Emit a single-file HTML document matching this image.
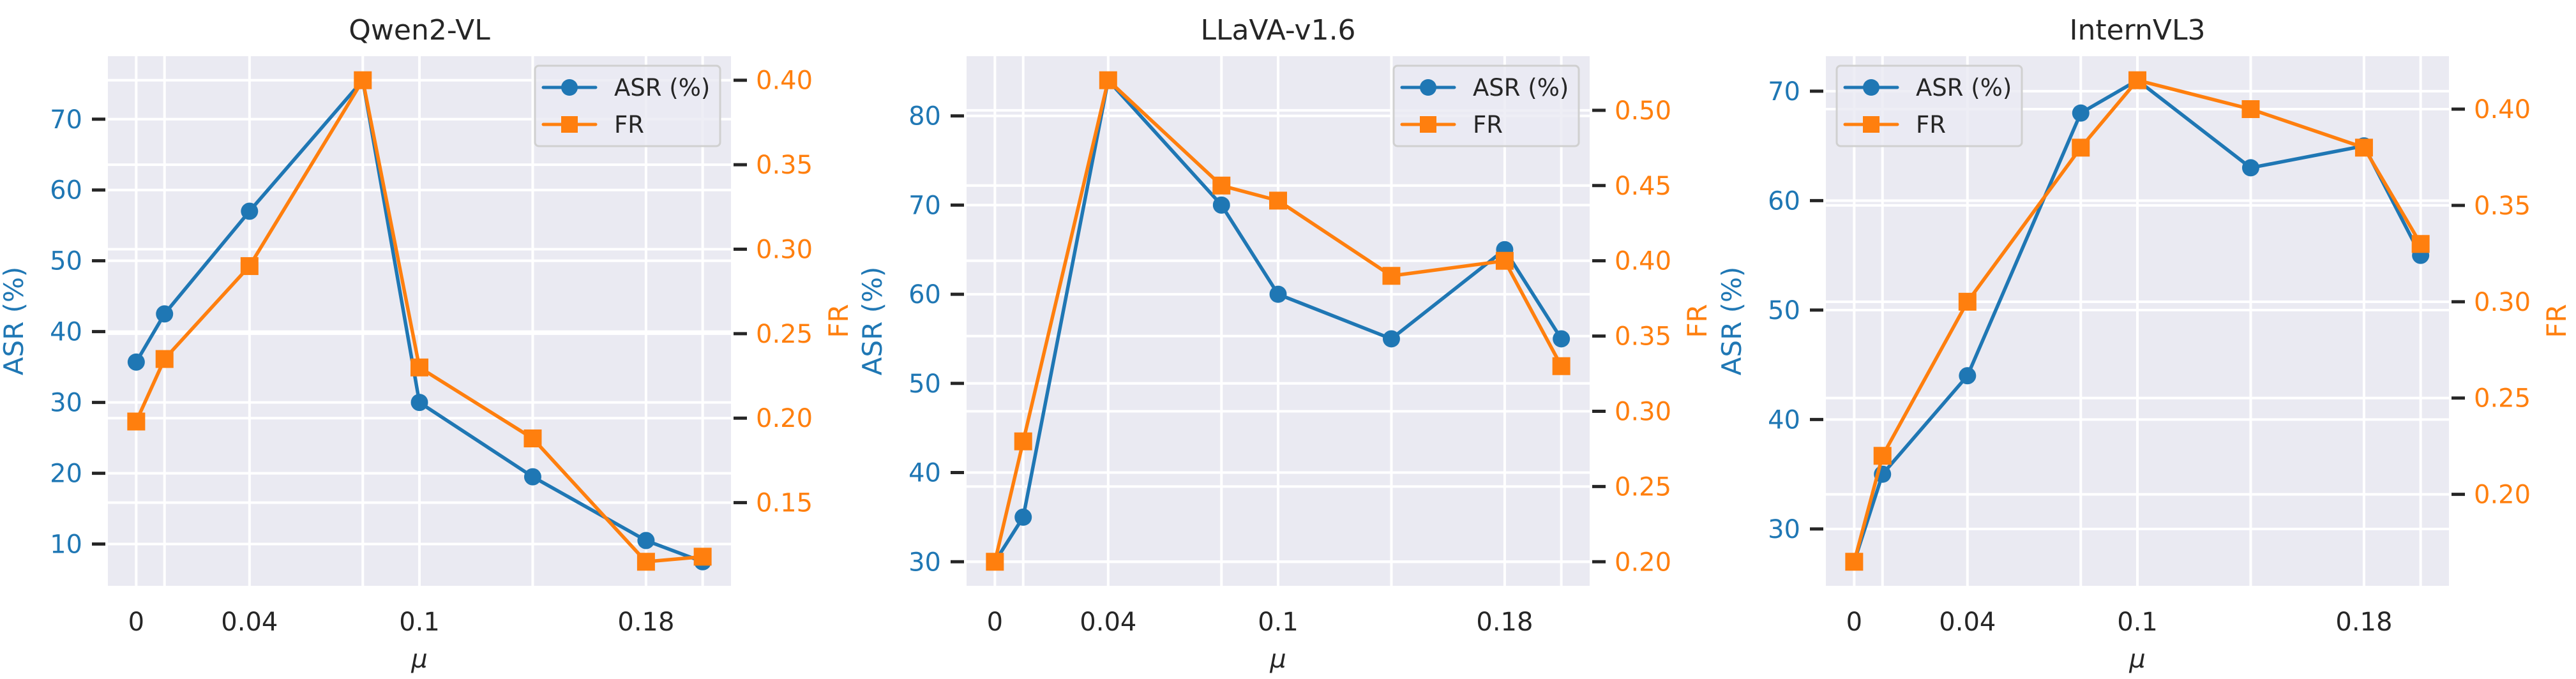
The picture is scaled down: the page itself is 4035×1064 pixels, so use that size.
<!DOCTYPE html>
<html><head><meta charset="utf-8"><style>
html,body{margin:0;padding:0;background:#fff;}
svg{display:block;font-family:"DejaVu Sans","Liberation Sans",sans-serif;}
</style></head><body>
<svg id="fig" width="4035" height="1064" viewBox="0 0 4035 1064" xmlns="http://www.w3.org/2000/svg"></svg>
<script>
const xValues = [0, 0.01, 0.04, 0.08, 0.1, 0.14, 0.18, 0.2];
const xTickValues = [0, 0.04, 0.1, 0.18];
const xTickLabels = ["0", "0.04", "0.1", "0.18"];
const titles = ["Qwen2-VL", "LLaVA-v1.6", "InternVL3"];
const asrQwen = [35.7, 42.5, 57, 75.5, 30, 19.5, 10.5, 7.5];
const frQwen = [0.198, 0.235, 0.29, 0.40, 0.23, 0.188, 0.115, 0.118];
const asrLlava = [30, 35, 84, 70, 60, 55, 65, 55];
const frLlava = [0.20, 0.28, 0.52, 0.45, 0.44, 0.39, 0.40, 0.33];
const asrIntern = [27, 35, 44, 68, 71, 63, 65, 55];
const frIntern = [0.165, 0.22, 0.30, 0.38, 0.415, 0.40, 0.38, 0.33];
const leftTicks = [[10,20,30,40,50,60,70],[30,40,50,60,70,80],[30,40,50,60,70]];
const rightTicks = [[0.15,0.20,0.25,0.30,0.35,0.40],[0.20,0.25,0.30,0.35,0.40,0.45,0.50],[0.20,0.25,0.30,0.35,0.40]];

const NS = "http://www.w3.org/2000/svg";
const svg = document.getElementById("fig");
const BLUE = "#1f77b4", ORANGE = "#ff7f0e", DARK = "#262626";
const panelLefts = [169, 1514, 2860];
const PW = 976, PT = 88, PB = 918;
const legendPos = ["ur", "ur", "ul"];
const asrSets = [asrQwen, asrLlava, asrIntern];
const frSets = [frQwen, frLlava, frIntern];

function mk(tag, attrs, parent) {
  const e = document.createElementNS(NS, tag);
  for (const k in attrs) e.setAttribute(k, attrs[k]);
  (parent || svg).appendChild(e);
  return e;
}
function range(arr) {
  const mn = Math.min(...arr), mx = Math.max(...arr), m = (mx - mn) * 0.05;
  return [mn - m, mx + m];
}

for (let p = 0; p < 3; p++) {
  const L = panelLefts[p], R = L + PW;
  const g = mk("g", {});
  
  
  const xr = [-0.01, 0.21];
  const X = v => L + (v - xr[0]) / (xr[1] - xr[0]) * PW;
  const yl = range(asrSets[p]), yr = range(frSets[p]);
  const YL = v => PB - (v - yl[0]) / (yl[1] - yl[0]) * (PB - PT);
  const YR = v => PB - (v - yr[0]) / (yr[1] - yr[0]) * (PB - PT);

  const bg = mk("rect", {x: L, y: PT, width: PW, height: PB - PT, fill: "#eaeaf2"}, g);
  
  
  xValues.forEach(v => {
    const l = mk("line", {x1: X(v), x2: X(v), y1: PT, y2: PB, stroke: "#fff", "stroke-width": 4}, g);
    
    
  });
  leftTicks[p].forEach(v => {
    const y = YL(v);
    const l = mk("line", {x1: L, x2: R, y1: y, y2: y, stroke: "#fff", "stroke-width": 4}, g);
    
    
    const t = mk("line", {x1: L - 25, x2: L - 4, y1: y, y2: y, stroke: DARK, "stroke-width": 5}, g);
    
    
    const tx = mk("text", {x: L - 40, y: y + 14, "text-anchor": "end", "font-size": 40, fill: BLUE}, g);
    tx.textContent = String(v);
    
    
  });
  rightTicks[p].forEach(v => {
    const y = YR(v);
    const l = mk("line", {x1: L, x2: R, y1: y, y2: y, stroke: "#fff", "stroke-width": 4}, g);
    
    
    const t = mk("line", {x1: R + 4, x2: R + 25, y1: y, y2: y, stroke: DARK, "stroke-width": 5}, g);
    
    
    const tx = mk("text", {x: R + 39, y: y + 14, "text-anchor": "start", "font-size": 40, fill: ORANGE}, g);
    tx.textContent = v.toFixed(2);
    
    
  });
  xTickValues.forEach((v, i) => {
    const tx = mk("text", {x: X(v), y: 988, "text-anchor": "middle", "font-size": 40, fill: DARK}, g);
    tx.textContent = xTickLabels[i];
    
    
  });
  const title = mk("text", {x: L + PW / 2, y: 62, "text-anchor": "middle", "font-size": 44, fill: DARK}, g);
  title.textContent = titles[p];
  
  
  const xl = mk("text", {x: L + PW / 2, y: 1046, "text-anchor": "middle", "font-size": 40, "font-style": "italic", fill: DARK}, g);
  xl.textContent = "μ";
  
  
  const lx = L - 133, ly = (PT + PB) / 2;
  const yla = mk("text", {x: lx, y: ly, "text-anchor": "middle", "font-size": 42, fill: BLUE, transform: `rotate(-90 ${lx} ${ly})`}, g);
  yla.textContent = "ASR (%)";
  
  
  const rx = R + 183;
  const yra = mk("text", {x: rx, y: ly, "text-anchor": "middle", "font-size": 42, fill: ORANGE, transform: `rotate(-90 ${rx} ${ly})`}, g);
  yra.textContent = "FR";
  
  

  const asrPts = xValues.map((v, i) => X(v) + "," + YL(asrSets[p][i])).join(" ");
  const asrLine = mk("polyline", {points: asrPts, fill: "none", stroke: BLUE, "stroke-width": 5.5, "stroke-linejoin": "round"}, g);
  
  
  xValues.forEach((v, i) => {
    const c = mk("circle", {cx: X(v), cy: YL(asrSets[p][i]), r: 13.5, fill: BLUE}, g);
    
    
  });
  const frPts = xValues.map((v, i) => X(v) + "," + YR(frSets[p][i])).join(" ");
  const frLine = mk("polyline", {points: frPts, fill: "none", stroke: ORANGE, "stroke-width": 5.5, "stroke-linejoin": "round"}, g);
  
  
  xValues.forEach((v, i) => {
    const s = mk("rect", {x: X(v) - 14, y: YR(frSets[p][i]) - 14, width: 28, height: 28, fill: ORANGE}, g);
    
    
  });

  const LW = 290, LH = 126;
  const lxp = legendPos[p] === "ur" ? R - 17 - LW : L + 17;
  const lyp = PT + 15;
  const lg = mk("g", {}, g);
  
  
  mk("rect", {x: lxp, y: lyp, width: LW, height: LH, rx: 6, fill: "#eaeaf2", "fill-opacity": 0.8, stroke: "#d0d0d0", "stroke-width": 3}, lg);
  const e1 = mk("g", {}, lg);
  
  
  mk("line", {x1: lxp + 13, x2: lxp + 95, y1: lyp + 34, y2: lyp + 34, stroke: BLUE, "stroke-width": 5, "stroke-linecap": "round"}, e1);
  mk("circle", {cx: lxp + 54, cy: lyp + 34, r: 13, fill: BLUE}, e1);
  const t1 = mk("text", {x: lxp + 124, y: lyp + 47, "font-size": 37, fill: DARK}, e1);
  t1.textContent = "ASR (%)";
  const e2 = mk("g", {}, lg);
  
  
  mk("line", {x1: lxp + 13, x2: lxp + 95, y1: lyp + 92, y2: lyp + 92, stroke: ORANGE, "stroke-width": 5, "stroke-linecap": "round"}, e2);
  mk("rect", {x: lxp + 41, y: lyp + 79, width: 26, height: 26, fill: ORANGE}, e2);
  const t2 = mk("text", {x: lxp + 124, y: lyp + 105, "font-size": 37, fill: DARK}, e2);
  t2.textContent = "FR";
}
</script>
</body></html>
